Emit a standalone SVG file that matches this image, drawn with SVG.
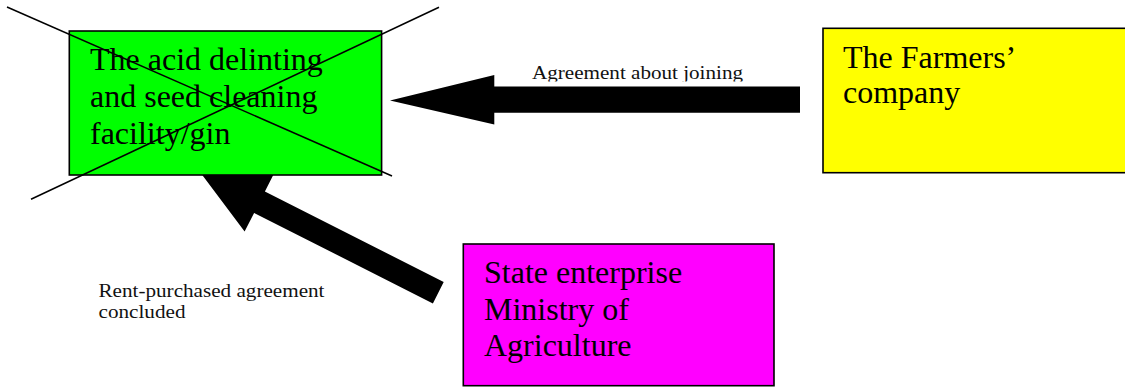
<svg xmlns="http://www.w3.org/2000/svg" width="1125" height="387" viewBox="0 0 1125 387">
<style>
.box{stroke:#000;stroke-width:1.6}
.big{font-family:"Liberation Serif","Times New Roman",serif;font-size:32px;fill:#000}
.lbl{font-family:"Liberation Serif","Times New Roman",serif;font-size:18px;fill:#111}
.arrow{fill:#000}
.cross{stroke:#000;stroke-width:1.5;fill:none}
</style>
<defs>
<clipPath id="clipA"><rect x="500" y="50" width="300" height="31.5"/></clipPath>
</defs>
<rect width="1125" height="387" fill="#fff"/>
<g id="connectors">
<polygon class="arrow" points="390,100.5 494.3,75 494.3,86.5 800,86.5 800,112.8 494.3,112.8 494.3,124.5"/>
<polygon class="arrow" points="200,172 274.4,172.8 264.9,191.5 443.7,282 432.9,303.4 254.1,212.9 244.6,231.6"/>
<text class="lbl" x="532" y="79" textLength="211" lengthAdjust="spacingAndGlyphs" clip-path="url(#clipA)">Agreement about joining</text>
<text class="lbl" x="98.5" y="296.5" textLength="226" lengthAdjust="spacingAndGlyphs">Rent-purchased agreement</text>
<text class="lbl" x="98.5" y="317.5" textLength="87" lengthAdjust="spacingAndGlyphs">concluded</text>
</g>
<g id="gin">
<rect class="box" x="69.3" y="31" width="312.3" height="144" fill="#00FF00"/>
<text class="big" x="90" y="70">The acid delinting</text>
<text class="big" x="90" y="107">and seed cleaning</text>
<text class="big" x="90" y="144">facility/gin</text>
<line class="cross" x1="7" y1="7" x2="392" y2="176"/>
<line class="cross" x1="439" y1="7.3" x2="31" y2="199.3"/>
</g>
<g id="farmers">
<rect class="box" x="823" y="28.3" width="320" height="144.4" fill="#FFFF00"/>
<text class="big" x="843" y="67.7">The Farmers’</text>
<text class="big" x="843" y="103.3">company</text>
</g>
<g id="state">
<rect class="box" x="463.3" y="244" width="310.7" height="141.7" fill="#FF00FF"/>
<text class="big" x="484" y="283.3">State enterprise</text>
<text class="big" x="484" y="320">Ministry of</text>
<text class="big" x="484" y="355.7">Agriculture</text>
</g>
</svg>
